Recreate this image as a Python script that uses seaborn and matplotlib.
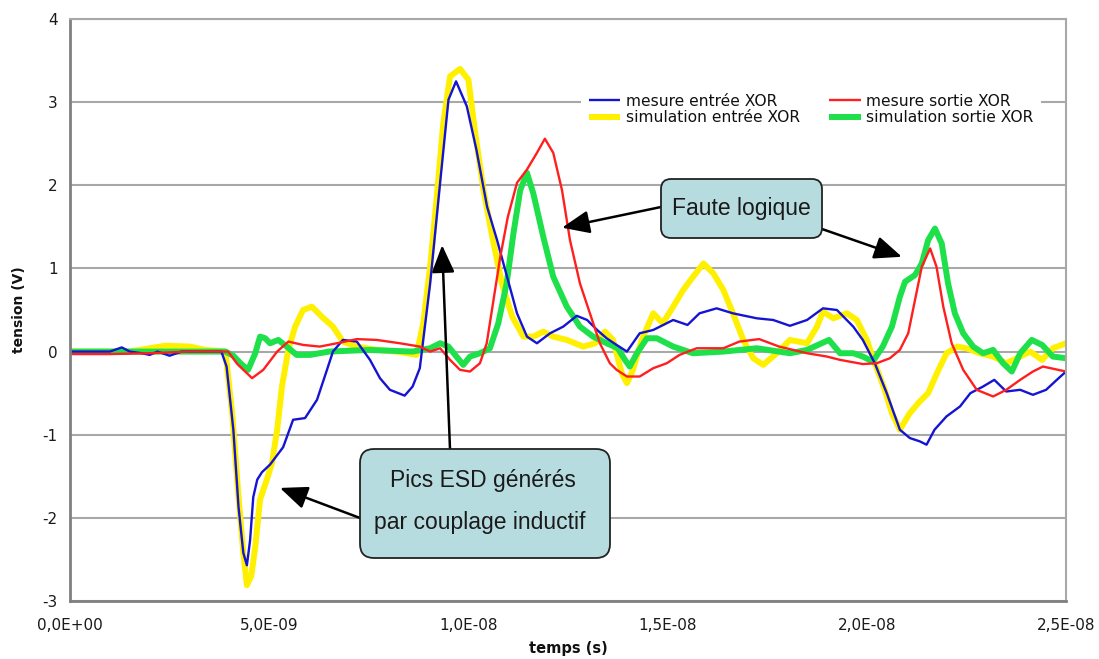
import numpy as np
import pandas as pd
import matplotlib
matplotlib.use("Agg")
import matplotlib.pyplot as plt
from matplotlib.patches import FancyBboxPatch
from matplotlib.ticker import FuncFormatter
import seaborn as sns

# temps en ns, tension en V
t_mes_entree = [0, 1.0, 1.3, 1.5, 1.8, 2.0, 2.2, 2.5, 2.8, 3.2, 3.6, 3.8, 3.93, 4.1, 4.23, 4.35, 4.44,
                4.52, 4.6, 4.7, 4.82, 5.02, 5.35, 5.6, 5.9, 6.2, 6.45, 6.6, 6.85, 7.2, 7.53, 7.78, 8.03,
                8.4, 8.6, 8.78, 9.04, 9.29, 9.5, 9.69, 9.96, 10.2, 10.47, 10.72, 10.97, 11.22, 11.47,
                11.72, 12.05, 12.38, 12.72, 12.98, 13.23, 13.47, 13.72, 13.98, 14.3, 14.64, 15.14, 15.5,
                15.8, 16.23, 16.64, 17.24, 17.65, 18.07, 18.5, 18.9, 19.25, 19.66, 19.9, 20.2, 20.5,
                20.83, 21.08, 21.33, 21.5, 21.7, 22.0, 22.34, 22.6, 22.92, 23.2, 23.5, 23.85, 24.17,
                24.5, 24.77, 25.0]
v_mes_entree = [0, 0, 0.05, 0, -0.02, -0.04, 0, -0.05, 0, 0, 0, 0, -0.18, -0.94, -1.87, -2.42, -2.57,
                -2.27, -1.75, -1.54, -1.45, -1.36, -1.15, -0.82, -0.8, -0.58, -0.22, 0, 0.14, 0.12, -0.1,
                -0.32, -0.46, -0.53, -0.42, -0.2, 0.82, 2.03, 3.03, 3.25, 2.95, 2.43, 1.74, 1.34, 0.9,
                0.46, 0.18, 0.1, 0.22, 0.3, 0.43, 0.38, 0.26, 0.16, 0.08, 0, 0.22, 0.26, 0.38, 0.32,
                0.46, 0.52, 0.46, 0.4, 0.38, 0.31, 0.38, 0.52, 0.5, 0.3, 0.14, -0.14, -0.5, -0.94,
                -1.04, -1.08, -1.12, -0.94, -0.78, -0.66, -0.5, -0.42, -0.34, -0.48, -0.46, -0.52,
                -0.46, -0.34, -0.24]

t_sim_entree = [0, 1.5, 2.0, 2.4, 3.0, 3.4, 3.9, 4.07, 4.23, 4.35, 4.44, 4.55, 4.65, 4.77, 4.94, 5.07,
                5.2, 5.32, 5.48, 5.65, 5.85, 6.07, 6.32, 6.6, 6.85, 7.2, 7.7, 8.2, 8.7, 8.87, 9.04, 9.2,
                9.37, 9.54, 9.79, 10.0, 10.17, 10.38, 10.6, 10.84, 11.1, 11.38, 11.63, 11.88, 12.13,
                12.47, 12.88, 13.18, 13.43, 13.63, 13.85, 13.98, 14.13, 14.35, 14.64, 14.88, 15.14,
                15.39, 15.64, 15.9, 16.15, 16.4, 16.64, 16.9, 17.15, 17.4, 17.74, 18.07, 18.5, 18.75,
                18.9, 19.16, 19.5, 19.75, 20.0, 20.2, 20.45, 20.63, 20.83, 21.08, 21.33, 21.54, 21.76,
                22.0, 22.27, 22.5, 22.84, 23.17, 23.5, 23.77, 24.1, 24.4, 24.67, 25.0]
v_sim_entree = [0, 0, 0.04, 0.07, 0.06, 0.02, 0, -0.74, -1.75, -2.42, -2.81, -2.7, -2.35, -1.78, -1.54,
                -1.34, -0.94, -0.42, 0.02, 0.3, 0.5, 0.54, 0.42, 0.3, 0.12, 0.06, 0.02, 0, -0.04, 0.35,
                1.02, 1.83, 2.75, 3.31, 3.4, 3.27, 2.63, 1.94, 1.38, 0.82, 0.42, 0.18, 0.18, 0.24, 0.18,
                0.14, 0.06, 0.1, 0.24, 0.14, -0.26, -0.38, -0.22, 0.14, 0.46, 0.34, 0.54, 0.74, 0.9,
                1.06, 0.94, 0.74, 0.46, 0.14, -0.08, -0.16, -0.02, 0.14, 0.1, 0.3, 0.48, 0.4, 0.46,
                0.38, 0.14, -0.14, -0.46, -0.74, -0.94, -0.74, -0.6, -0.5, -0.26, -0.02, 0.06, 0.04,
                -0.02, -0.06, -0.14, -0.08, 0, -0.1, 0.04, 0.1]

t_mes_sortie = [0, 1.0, 2.0, 3.0, 3.97, 4.2, 4.57, 4.85, 5.2, 5.48, 5.85, 6.27, 6.7, 7.2, 7.7, 8.28, 8.78,
                9.04, 9.29, 9.54, 9.79, 10.04, 10.29, 10.46, 10.63, 10.8, 10.99, 11.22, 11.47, 11.72,
                11.92, 12.13, 12.35, 12.55, 12.8, 13.05, 13.3, 13.55, 13.72, 13.98, 14.3, 14.64, 14.98,
                15.3, 15.73, 16.4, 16.8, 17.3, 17.8, 18.5, 19.0, 19.33, 19.9, 20.25, 20.58, 20.83,
                21.04, 21.21, 21.38, 21.59, 21.75, 21.92, 22.13, 22.42, 22.76, 23.17, 23.5, 23.85,
                24.17, 24.42, 25.0]
v_mes_sortie = [-0.03, -0.03, -0.02, 0, 0, -0.15, -0.32, -0.22, 0, 0.12, 0.08, 0.06, 0.1, 0.15, 0.14,
                0.1, 0.06, 0, 0.04, -0.1, -0.22, -0.24, -0.14, 0.1, 0.62, 1.14, 1.62, 2.03, 2.19, 2.39,
                2.56, 2.39, 1.94, 1.34, 0.82, 0.46, 0.1, -0.14, -0.22, -0.3, -0.3, -0.2, -0.14, -0.04,
                0.04, 0.04, 0.12, 0.15, 0.06, -0.02, -0.06, -0.1, -0.15, -0.14, -0.08, 0.02, 0.22,
                0.62, 1.02, 1.24, 1.02, 0.54, 0.1, -0.22, -0.46, -0.54, -0.46, -0.34, -0.24, -0.18,
                -0.24]

t_sim_sortie = [0, 3.9, 4.1, 4.3, 4.47, 4.65, 4.77, 4.9, 5.02, 5.23, 5.44, 5.69, 6.03, 6.5, 7.5, 8.6,
                9.04, 9.29, 9.5, 9.7, 9.87, 10.04, 10.29, 10.54, 10.75, 10.96, 11.13, 11.3, 11.47,
                11.63, 11.88, 12.13, 12.47, 12.8, 13.13, 13.47, 13.75, 13.93, 14.05, 14.23, 14.48,
                14.73, 15.14, 15.64, 16.4, 17.24, 18.07, 18.5, 19.05, 19.33, 19.66, 19.9, 20.15, 20.4,
                20.63, 20.83, 20.96, 21.21, 21.38, 21.54, 21.71, 21.88, 22.04, 22.21, 22.42, 22.67,
                22.92, 23.17, 23.42, 23.64, 23.85, 24.14, 24.4, 24.67, 25.0]
v_sim_sortie = [0, 0, -0.05, -0.15, -0.22, -0.02, 0.18, 0.16, 0.1, 0.14, 0.06, -0.04, -0.04, 0, 0.02,
                0, 0.04, 0.1, 0.06, -0.06, -0.16, -0.06, -0.02, 0.04, 0.34, 0.82, 1.42, 1.94, 2.15,
                1.9, 1.38, 0.9, 0.54, 0.3, 0.18, 0.1, 0.04, -0.1, -0.18, -0.02, 0.16, 0.16, 0.06,
                -0.02, 0, 0.04, -0.02, 0.02, 0.14, -0.02, -0.02, -0.06, -0.12, 0.06, 0.3, 0.66, 0.84,
                0.92, 1.06, 1.34, 1.48, 1.3, 0.82, 0.46, 0.22, 0.06, -0.02, 0.02, -0.14, -0.24, -0.02,
                0.14, 0.08, -0.06, -0.08]

labels = ["mesure entrée XOR", "simulation entrée XOR", "mesure sortie XOR", "simulation sortie XOR"]

sns.set_style("white")
plt.rcParams["font.family"] = ["DejaVu Sans"]
plt.rcParams["axes.unicode_minus"] = False

fig = plt.figure(figsize=(10.99, 6.59), dpi=100)
ax = fig.add_axes([70 / 1099, 58 / 659, 996 / 1099, 582 / 659])

# traits épais (simulations) dessous, mesures par-dessus
series = [
    (t_sim_entree, v_sim_entree, labels[1], "#fff000", 4.3),
    (t_sim_sortie, v_sim_sortie, labels[3], "#1ee04a", 4.3),
    (t_mes_entree, v_mes_entree, labels[0], "#1414d2", 1.7),
    (t_mes_sortie, v_mes_sortie, labels[2], "#ff1f1f", 1.7),
]
for t, v, lab, col, lw in series:
    df = pd.DataFrame({"temps": np.array(t) * 1e-9, "tension": v})
    sns.lineplot(data=df, x="temps", y="tension", color=col, linewidth=lw,
                 label=lab, ax=ax, solid_capstyle="round", solid_joinstyle="round")

ax.set_xlim(0, 2.5e-8)
ax.set_ylim(-3, 4)
ax.set_xticks(np.arange(0, 2.51e-8, 5e-9))
ax.set_yticks(range(-3, 5))
ax.xaxis.set_major_formatter(FuncFormatter(lambda x, p: f"{x:.1E}".replace(".", ",")))
ax.yaxis.set_major_formatter(FuncFormatter(lambda y, p: f"{y:.0f}"))
ax.tick_params(axis="both", direction="out", length=5, width=1.5, color="#888888",
               labelsize=11, labelcolor="#1a1a1a", pad=4)
ax.tick_params(axis="x", pad=7)
ax.grid(axis="y", color="#a8a8a8", linewidth=1.5)
ax.set_axisbelow(True)
for side in ["top", "right"]:
    ax.spines[side].set_color("#a8a8a8")
    ax.spines[side].set_linewidth(1.5)
for side in ["left", "bottom"]:
    ax.spines[side].set_color("#808080")
    ax.spines[side].set_linewidth(2)

ax.set_xlabel("temps (s)", fontsize=10.5, fontweight="bold", color="#111111", labelpad=6)
ax.set_ylabel("tension (V)", fontsize=10, fontweight="bold", color="#111111", labelpad=12)

handles, labs = ax.get_legend_handles_labels()
order = [labs.index(l) for l in labels]
for h in handles:
    h.set_solid_capstyle("butt")
leg = ax.legend([handles[i] for i in order], [labs[i] for i in order], ncol=2,
                loc="upper right", bbox_to_anchor=(0.975, 0.885), fontsize=11.2,
                frameon=True, facecolor="white", edgecolor="none", framealpha=1,
                handlelength=2.0, handletextpad=0.35, columnspacing=1.9,
                labelspacing=0.1, borderpad=0.5, borderaxespad=0)
for txt in leg.get_texts():
    txt.set_color("#111111")

# bulles d'annotation
box_style = dict(facecolor="#b7dce0", edgecolor="#222222", linewidth=1.3,
                 transform=fig.dpi_scale_trans, zorder=10)
fig.patches.append(FancyBboxPatch((6.61, 4.21), 1.61, 0.59,
                                  boxstyle="round,pad=0,rounding_size=0.1", **box_style))
fig.patches.append(FancyBboxPatch((3.60, 1.01), 2.50, 1.09,
                                  boxstyle="round,pad=0,rounding_size=0.14", **box_style))
text_kw = dict(family=["Liberation Sans", "DejaVu Sans"], fontsize=16.5, color="#1a1a1a",
               ha="center", va="center", zorder=11, transform=fig.dpi_scale_trans)
fig.text(7.415, 4.505, "Faute logique", **text_kw)
fig.text(4.825, 1.79, "Pics ESD générés", **text_kw)
fig.text(4.80, 1.36, "par couplage inductif", **text_kw)

arrow_kw = dict(arrowstyle="-|>,head_length=1.2,head_width=0.5", color="black",
                lw=1.8, shrinkA=0, shrinkB=0, mutation_scale=14)
arrows = [
    ((12.35e-9, 1.49), (661, 452)),
    ((20.88e-9, 1.14), (822, 430)),
    ((9.34e-9, 1.28), (450, 210)),
    ((5.27e-9, -1.64), (360, 141)),
]
for tip, tail in arrows:
    ax.annotate("", xy=tip, xycoords="data", xytext=tail, textcoords="figure pixels",
                arrowprops=arrow_kw, annotation_clip=False, zorder=9)

fig.savefig("out.png", dpi=100)
